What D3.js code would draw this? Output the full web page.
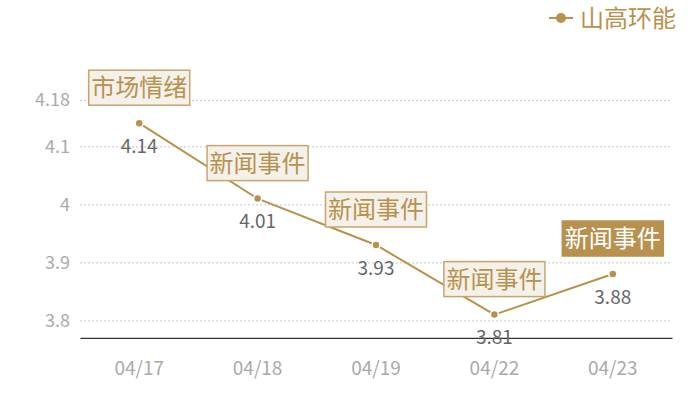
<!DOCTYPE html>
<html>
<head>
<meta charset="utf-8">
<script src="https://cdn.jsdelivr.net/npm/d3@7"></script>
<style>
  body { margin: 0; background: #fff; }
  svg { font-family: "Noto Sans CJK SC", "Noto Sans", sans-serif; }
</style>
</head>
<body>
<svg id="chart" width="700" height="400"></svg>
<script>
const dates = ['04/17', '04/18', '04/19', '04/22', '04/23']
const prices = [4.14, 4.01, 3.93, 3.81, 3.88]
const notes = ['市场情绪', '新闻事件', '新闻事件', '新闻事件', '新闻事件']
const yTicks = [3.8, 3.9, 4, 4.1, 4.18]
const seriesName = '山高环能'

const gold = '#b8914f'
const svg = d3.select('#chart')

const x = d3.scaleBand()
  .domain(dates)
  .range([80, 672])

const y = d3.scaleLinear()
  .domain([3.77, 4.18])
  .range([337.8, 100])

const cx = d => x(d) + x.bandwidth() / 2

// grid lines
svg.append('g')
  .selectAll('line')
  .data(yTicks)
  .enter()
  .append('line')
    .attr('x1', 80)
    .attr('x2', 672)
    .attr('y1', d => y(d) + 0.5)
    .attr('y2', d => y(d) + 0.5)
    .attr('stroke', '#c8c8c8')
    .attr('stroke-dasharray', '2,2')

// y labels
svg.append('g')
  .selectAll('text')
  .data(yTicks)
  .enter()
  .append('text')
    .attr('x', 70)
    .attr('y', d => y(d))
    .attr('dy', '0.35em')
    .attr('text-anchor', 'end')
    .attr('fill', '#aaa')
    .attr('font-size', 18)
    .text(d => d)

// x axis
const xAxis = d3.axisBottom(x).tickSize(0).tickPadding(24)
svg.append('g')
  .attr('transform', `translate(0,${y(3.77)})`)
  .call(xAxis)
  .call(g => g.select('.domain').attr('stroke', '#333').attr('stroke-width', 1.2))
  .call(g => g.selectAll('text')
    .attr('fill', '#aaa')
    .attr('font-size', 19)
    .attr('font-family', '"Noto Sans CJK SC", sans-serif'))

const line = d3.line()
  .x((d, i) => cx(dates[i]))
  .y(d => y(d))

svg.append('path')
  .datum(prices)
  .attr('d', line)
  .attr('fill', 'none')
  .attr('stroke', gold)
  .attr('stroke-width', 2)

svg.append('g')
  .selectAll('circle')
  .data(prices)
  .enter()
  .append('circle')
    .attr('cx', (d, i) => cx(dates[i]))
    .attr('cy', d => y(d))
    .attr('r', 4)
    .attr('fill', gold)
    .attr('stroke', '#fff')
    .attr('stroke-width', 1.5)

// value labels
svg.append('g')
  .selectAll('text')
  .data(prices)
  .enter()
  .append('text')
    .attr('x', (d, i) => cx(dates[i]))
    .attr('y', d => y(d) + 23)
    .attr('dy', '0.35em')
    .attr('text-anchor', 'middle')
    .attr('fill', '#666')
    .attr('font-size', 19)
    .text(d => d)

// note boxes
const boxW = 101, boxH = 35
const noteG = svg.append('g')
  .selectAll('g')
  .data(prices)
  .enter()
  .append('g')
    .attr('transform', (d, i) => `translate(${cx(dates[i])},${y(d) - 18})`)

noteG.append('rect')
  .attr('x', -boxW / 2)
  .attr('y', -boxH)
  .attr('width', boxW)
  .attr('height', boxH)
  .attr('fill', (d, i) => i === prices.length - 1 ? gold : '#f4f0ea')
  .attr('stroke', (d, i) => i === prices.length - 1 ? gold : '#c9a56b')
  .attr('stroke-width', 1.5)

noteG.append('text')
  .attr('y', -boxH / 2)
  .attr('dy', '0.36em')
  .attr('text-anchor', 'middle')
  .attr('font-size', 24)
  .attr('fill', (d, i) => i === prices.length - 1 ? '#fff' : gold)
  .text((d, i) => notes[i])

// legend
const leg = svg.append('g').attr('transform', 'translate(549,18)')
leg.append('line')
  .attr('x1', 0).attr('x2', 24)
  .attr('stroke', gold).attr('stroke-width', 2)
leg.append('circle')
  .attr('cx', 12).attr('r', 5)
  .attr('fill', gold)
leg.append('text')
  .attr('x', 31)
  .attr('dy', '0.36em')
  .attr('font-size', 24)
  .attr('fill', gold)
  .text(seriesName)
</script>
</body>
</html>
